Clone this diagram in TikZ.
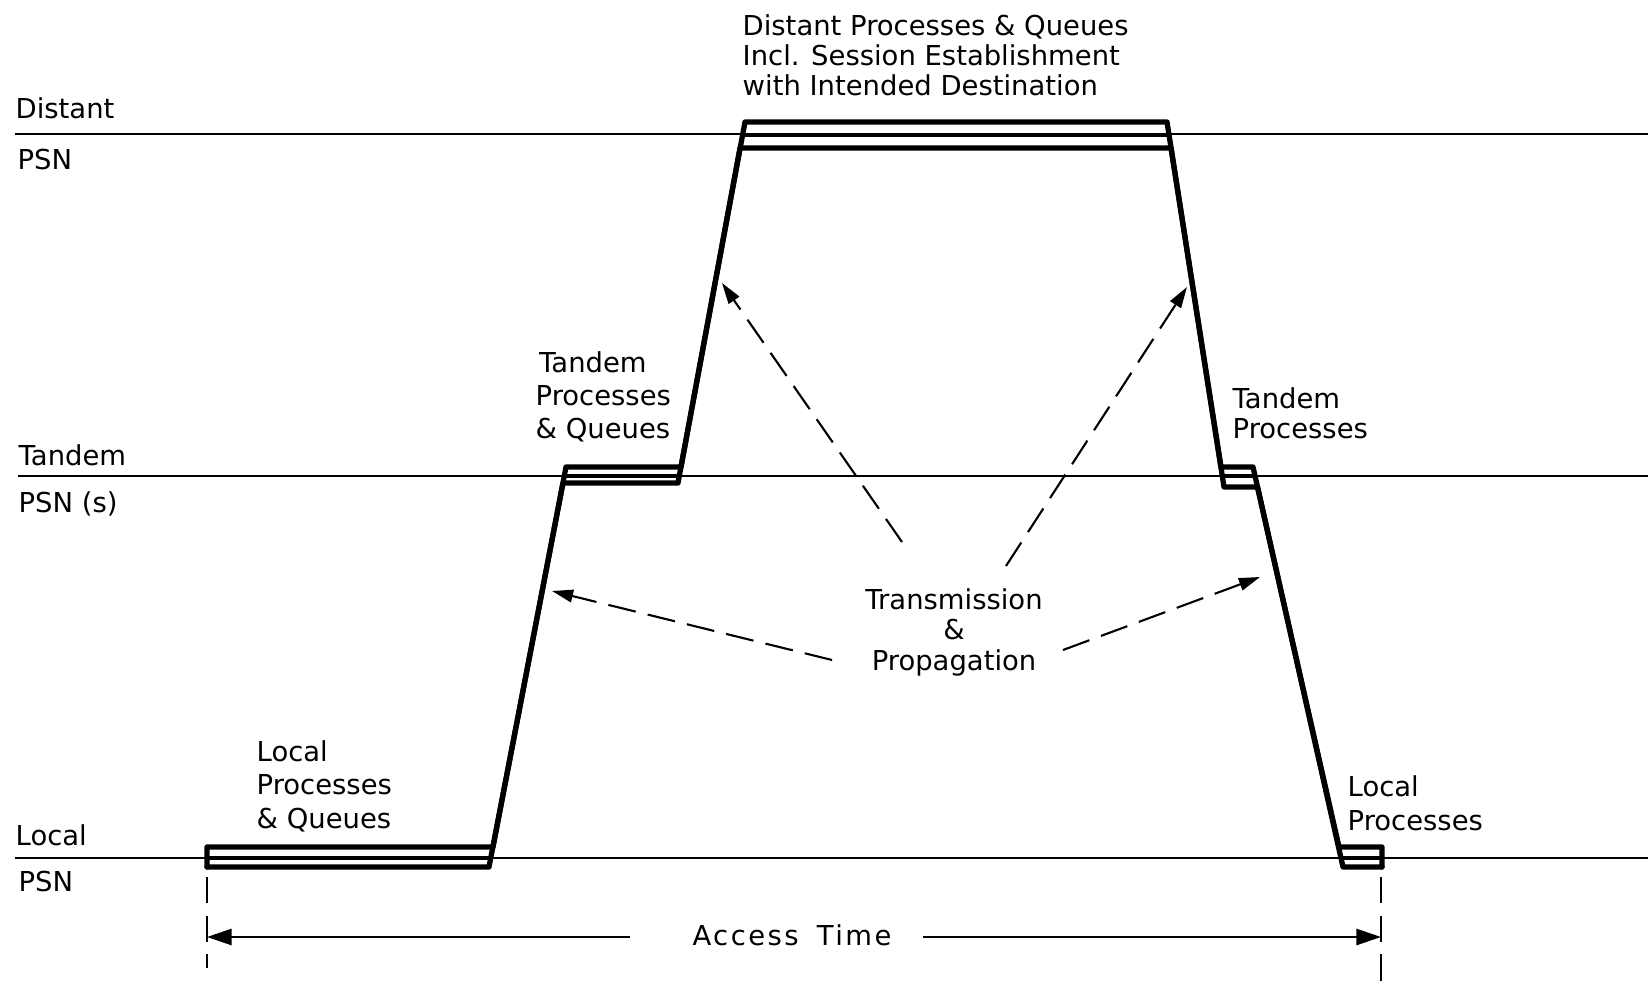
\documentclass[tikz,border=0pt]{standalone}
\usepackage{fontspec}
\setmainfont{DejaVu Sans}
\usetikzlibrary{arrows.meta}
\begin{document}
\begin{tikzpicture}[x=0.01cm,y=-0.01cm,
  level/.style={line width=0.7pt},
  profile/.style={line width=1.5pt, line join=round, line cap=round},
  midline/.style={line width=0.9pt},
  lbl/.style={inner sep=0pt, anchor=base west, align=left,
              font=\fontsize{7.8}{8.54}\selectfont},
  wide/.style={font=\fontsize{7.8}{9.4}\selectfont},
  flow/.style={line width=0.6pt, dash pattern=on 8pt off 3.5pt,
               -{Triangle[length=6pt,width=3.6pt]}},
  span/.style={line width=0.6pt, -{Triangle[length=7pt,width=4.6pt]}},
  marker/.style={line width=0.7pt, dash pattern=on 7.5pt off 3.5pt}]
\useasboundingbox (0,0) rectangle (1651,985);

% network levels
\draw[level] (15,134) -- (1648,134);
\draw[level] (18,476) -- (1648,476);
\draw[level] (15,858) -- (1648,858);

% level names
\node[lbl] (dist1) at (15,119) {Distant};
\node[lbl] (dist2) at (17,170) {PSN};
\node[lbl] (tand1) at (18,465) {Tandem};
\node[lbl] (tand2) at (18,512) {PSN (s)};
\node[lbl] (loc1)  at (15,845) {Local};
\node[lbl] (loc2)  at (18,891) {PSN};

% message path: processing boxes joined by transmission legs
\draw[profile] (207,867) -- (207,847) -- (493,847) -- (566,467) -- (681,467)
  -- (745,122) -- (1167,122) -- (1221,467) -- (1253,467) -- (1339,847)
  -- (1382,847) -- (1382,867);
\draw[profile] (207,867) -- (489,867) -- (563,483) -- (678,483) -- (740,148)
  -- (1171,148) -- (1224,487) -- (1257.5,487) -- (1343,867) -- (1382,867);
\draw[midline] (207,858) -- (491,858);
\draw[midline] (564,476) -- (679,476);
\draw[midline] (742,135) -- (1169,135);
\draw[midline] (1222,476) -- (1255,476);
\draw[midline] (1341,858) -- (1382,858);

% box labels (anchored on the baseline of their last line)
\node[lbl] (dpq) at (742,96) {Distant Processes \& Queues\\Incl. Session Establishment\\with Intended Destination};
\node[lbl, wide] (tpq) at (535,439) {\hspace{1pt}Tandem\\Processes\\\& Queues};
\node[lbl] (tp)  at (1232,439) {Tandem\\Processes};
\node[lbl, wide] (lpq) at (256,828) {Local\\Processes\\\& Queues};
\node[lbl, wide] (lp)  at (1347,830) {Local\\Processes};

% transmission and propagation legs
\node[lbl, anchor=base, align=center] (trans) at (954,670) {Transmission\\\&\\Propagation};
\coordinate (f1s) at (902,542);  \coordinate (f1e) at (722,283);
\coordinate (f2s) at (1006,566); \coordinate (f2e) at (1187,287);
\coordinate (f3s) at (832,660);  \coordinate (f3e) at (552,591);
\coordinate (f4s) at (1063,650); \coordinate (f4e) at (1260,577);
\draw[flow] (f1s) -- (f1e);
\draw[flow] (f2s) -- (f2e);
\draw[flow] (f3s) -- (f3e);
\draw[flow] (f4s) -- (f4e);

% access time span
\draw[marker] (207,877) -- (207,968);
\draw[marker] (1381,877) -- (1381,981);
\node[lbl, anchor=base, font=\fontsize{7.8}{8.54}\selectfont\addfontfeature{LetterSpace=9}] (acc) at (792,945) {Access\hspace{2pt} Time};
\coordinate (al) at (630,937); \coordinate (at) at (207,937);
\coordinate (ar) at (923,937); \coordinate (bt) at (1381,937);
\draw[span] (al) -- (at);
\draw[span] (ar) -- (bt);
\end{tikzpicture}
\end{document}
